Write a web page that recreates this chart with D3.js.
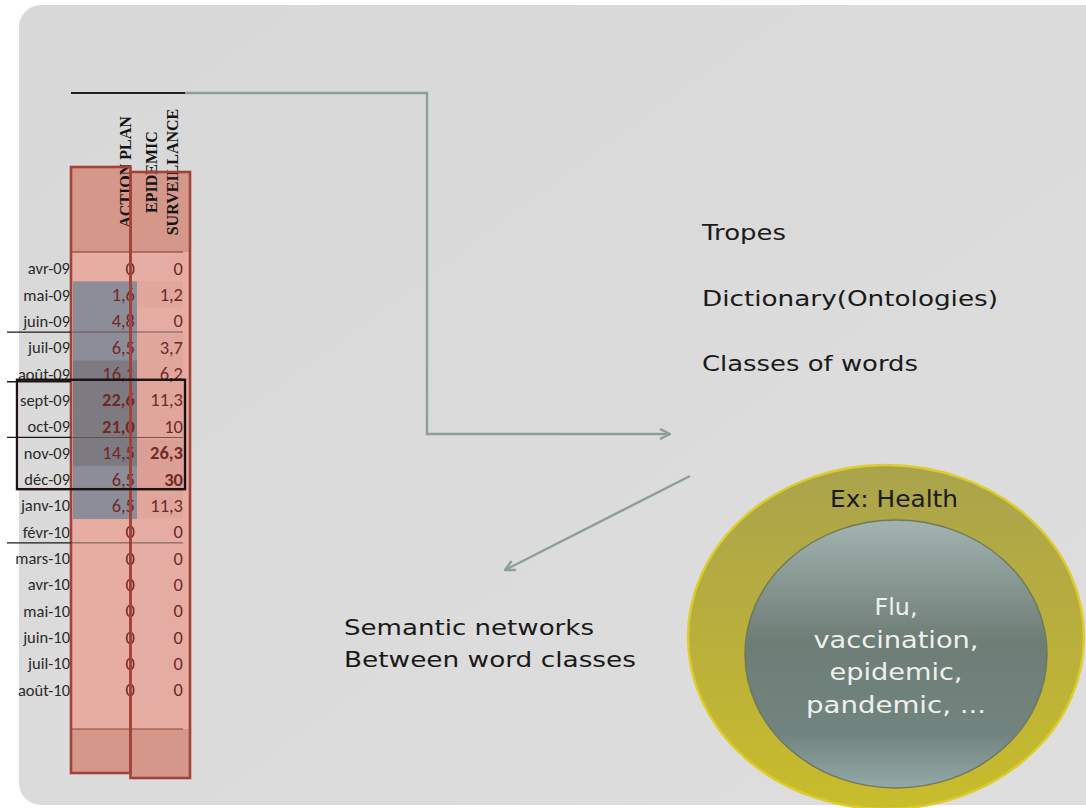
<!DOCTYPE html>
<html><head><meta charset="utf-8">
<script src="https://cdn.jsdelivr.net/npm/d3@7"></script>
<style>html,body{margin:0;padding:0;background:#fff;}svg{display:block;}</style>
</head><body><svg id="c" width="1086" height="808"></svg>
<script>
const months = ["avr-09","mai-09","juin-09","juil-09","août-09","sept-09","oct-09","nov-09","déc-09","janv-10","févr-10","mars-10","avr-10","mai-10","juin-10","juil-10","août-10"];
const actionPlan = [0,1.6,4.8,6.5,16.1,22.6,21.0,14.5,6.5,6.5,0,0,0,0,0,0,0];
const epidemicSurveillance = [0,1.2,0,3.7,6.2,11.3,10,26.3,30,11.3,0,0,0,0,0,0,0];
const seriesKeys = ["ap","es"];
const seriesHeaders = [["ACTION PLAN"],["EPIDEMIC","SURVEILLANCE"]];
const methodItems = ["Tropes","Dictionary(Ontologies)","Classes of words"];
const networkLines = ["Semantic networks","Between word classes"];
const classTitle = "Ex: Health";
const classWords = ["Flu,","vaccination,","epidemic,","pandemic, ..."];

const svg = d3.select("#c");
const defs = svg.append("defs");
const ring = defs.append("linearGradient").attr("id","ring").attr("x1",0).attr("y1",0).attr("x2",0).attr("y2",1);
ring.append("stop").attr("offset","0%").attr("stop-color","#aaa34c");
ring.append("stop").attr("offset","50%").attr("stop-color","#b9af3c");
ring.append("stop").attr("offset","100%").attr("stop-color","#c8bd2a");
const core = defs.append("linearGradient").attr("id","core").attr("x1",0).attr("y1",0).attr("x2",0).attr("y2",1);
core.append("stop").attr("offset","0%").attr("stop-color","#a3b3b0");
core.append("stop").attr("offset","45%").attr("stop-color","#6e7d76");
core.append("stop").attr("offset","80%").attr("stop-color","#72847f");
core.append("stop").attr("offset","100%").attr("stop-color","#93a8a8");
const bg = defs.append("linearGradient").attr("id","bg").attr("x1",0).attr("y1",0).attr("x2",1).attr("y2",1);
bg.append("stop").attr("offset","0%").attr("stop-color","#d8d8d8");
bg.append("stop").attr("offset","100%").attr("stop-color","#dedede");
defs.append("marker").attr("id","arr").attr("viewBox","0 0 12 12").attr("refX",11).attr("refY",6)
  .attr("markerWidth",12).attr("markerHeight",12).attr("markerUnits","userSpaceOnUse").attr("orient","auto")
  .append("path").attr("d","M1,1 L11,6 L1,11").attr("fill","none").attr("stroke","#8d9d99").attr("stroke-width",2.4);

// slide background
svg.append("rect").attr("x",19).attr("y",5).attr("width",1100).attr("height",800).attr("rx",22).attr("fill","url(#bg)");

// scales
const y = d3.scaleBand().domain(months).range([255,703]);
const colRect = d3.scaleBand().domain(seriesKeys).range([71,190]);
const cellEdge = d3.scaleOrdinal().domain(seriesKeys).range([[73,137],[137,185]]);
const values = {ap: actionPlan, es: epidemicSurveillance};
const grayScale = d3.scaleThreshold().domain([0.01,10]).range([null,"#8d8d99","#7e7a82"]);
const esShade = d3.scaleThreshold().domain([0.01,20]).range(["#e4aca2","#e0a69c","#dc9f95"]);

// column rects (fill)
const rectTops = {ap:167, es:172}, rectBots = {ap:773, es:778};
seriesKeys.forEach(k=>{
  svg.append("rect").attr("x",colRect(k)).attr("y",rectTops[k]).attr("width",colRect.bandwidth()).attr("height",rectBots[k]-rectTops[k])
    .attr("fill","#d6978b");
  svg.append("rect").attr("x",colRect(k)).attr("y",252).attr("width",colRect.bandwidth()).attr("height",729-252)
    .attr("fill","#e7ada3");
});
// es cell shading
svg.append("g").selectAll("rect").data(months).join("rect")
  .attr("x",cellEdge("es")[0]).attr("width",cellEdge("es")[1]-cellEdge("es")[0]-2)
  .attr("y",d=>y(d)).attr("height",y.bandwidth())
  .attr("fill",(d,i)=>esShade(epidemicSurveillance[i]));
// ap gray cells
svg.append("g").selectAll("rect").data(months.filter((m,i)=>actionPlan[i]>0)).join("rect")
  .attr("x",cellEdge("ap")[0]).attr("width",cellEdge("ap")[1]-cellEdge("ap")[0])
  .attr("y",d=>y(d)).attr("height",y.bandwidth()+0.5)
  .attr("fill",d=>grayScale(actionPlan[months.indexOf(d)]));

// header lines
svg.append("line").attr("x1",72).attr("x2",183).attr("y1",252).attr("y2",252).attr("stroke","#7a3a32").attr("stroke-width",1.2);
svg.append("line").attr("x1",72).attr("x2",183).attr("y1",729).attr("y2",729).attr("stroke","#8a4a40").attr("stroke-width",1.2);

// headers (rotated)
const headerCx = {ap:125, es:162};
seriesKeys.forEach((k,si)=>{
  const lines = seriesHeaders[si];
  const t = svg.append("text").attr("transform",`translate(${headerCx[k]},172) rotate(-90)`)
    .attr("text-anchor","middle").attr("font-family","'Liberation Serif',serif").attr("font-weight","bold")
    .attr("font-size",16).attr("fill","#141414");
  lines.forEach((l,li)=>{
    t.append("tspan").attr("x",0).attr("y", (li - (lines.length-1)/2)*21 + 5.5).text(l);
  });
});

// row labels
svg.append("g").selectAll("text").data(months).join("text")
  .attr("x",70).attr("y",d=>y(d)+y.bandwidth()/2+6).attr("text-anchor","end")
  .attr("font-family","Carlito,Lato,sans-serif").attr("font-size",16.5).attr("fill","#2a2a2a").text(d=>d);

// values
const fmt = (k,v)=> v===0 ? "0" : (k==="ap" ? v.toFixed(1) : d3.format("~f")(v)).replace(".",",");
seriesKeys.forEach(k=>{
  svg.append("g").selectAll("text").data(values[k]).join("text")
    .attr("x",cellEdge(k)[1]-2).attr("y",(v,i)=>y(months[i])+y.bandwidth()/2+6.5)
    .attr("text-anchor","end").attr("font-family","Carlito,Lato,sans-serif").attr("font-size",18.5)
    .attr("font-weight",v=>v>20?"bold":"normal").attr("fill","#702a26").text(v=>fmt(k,v));
});

// column rect strokes
seriesKeys.forEach(k=>{
  svg.append("rect").attr("x",colRect(k)).attr("y",rectTops[k]).attr("width",colRect.bandwidth()).attr("height",rectBots[k]-rectTops[k])
    .attr("fill","none").attr("stroke","#a2433a").attr("stroke-width",2.6);
});

// separator lines
const sepAfter = ["juin-09","oct-09","févr-10"];
sepAfter.forEach(m=>{
  const yy = y(m)+y.bandwidth()-2;
  svg.append("line").attr("x1",7).attr("x2",71).attr("y1",yy).attr("y2",yy).attr("stroke","#1a1a1a").attr("stroke-width",1.3);
  svg.append("line").attr("x1",71).attr("x2",183).attr("y1",yy).attr("y2",yy).attr("stroke","#6a4a48").attr("stroke-width",0.9);
});
// août line
svg.append("line").attr("x1",7).attr("x2",71).attr("y1",y("août-09")+y.bandwidth()-5).attr("y2",y("août-09")+y.bandwidth()-5).attr("stroke","#1a1a1a").attr("stroke-width",1.5);
// highlight box
svg.append("rect").attr("x",17).attr("y",y("sept-09")-7).attr("width",168).attr("height",y("déc-09")+y.bandwidth()-3-(y("sept-09")-7))
  .attr("fill","none").attr("stroke","#1c1212").attr("stroke-width",2.4);

// connectors
svg.append("line").attr("x1",71).attr("x2",186).attr("y1",93).attr("y2",93).attr("stroke","#222").attr("stroke-width",2);
svg.append("path").attr("d","M185,93 H427 V434 H670").attr("fill","none").attr("stroke","#8d9d99").attr("stroke-width",2.4).attr("marker-end","url(#arr)");
svg.append("path").attr("d","M690,476 L505,570").attr("fill","none").attr("stroke","#8d9d99").attr("stroke-width",2.4).attr("marker-end","url(#arr)");

// method items
const gothic = "'DejaVu Sans',sans-serif";
const mLen = [84,296,216];
svg.append("g").selectAll("text").data(methodItems).join("text")
  .attr("x",702).attr("y",(d,i)=>240+i*65.5).attr("font-family",gothic).attr("font-size",22).attr("fill","#1a1a1a")
  .attr("textLength",(d,i)=>mLen[i]).attr("lengthAdjust","spacingAndGlyphs").text(d=>d);
const nLen = [250,292];
svg.append("g").selectAll("text").data(networkLines).join("text")
  .attr("x",344).attr("y",(d,i)=>635+i*32).attr("font-family",gothic).attr("font-size",22).attr("fill","#1a1a1a")
  .attr("textLength",(d,i)=>nLen[i]).attr("lengthAdjust","spacingAndGlyphs").text(d=>d);

// circles
svg.append("ellipse").attr("cx",886).attr("cy",637).attr("rx",198).attr("ry",172).attr("fill","url(#ring)").attr("stroke","#dccd2c").attr("stroke-width",2.5);
svg.append("ellipse").attr("cx",896).attr("cy",654).attr("rx",151).attr("ry",134).attr("fill","url(#core)").attr("stroke","#6f7a5a").attr("stroke-width",1.5);
svg.append("text").attr("x",894).attr("y",507).attr("text-anchor","middle").attr("font-family",gothic).attr("font-size",23)
  .attr("fill","#1a1a1a").attr("textLength",128).attr("lengthAdjust","spacingAndGlyphs").text(classTitle);
const wLen = [43,165,133,180];
svg.append("g").selectAll("text").data(classWords).join("text")
  .attr("x",896).attr("y",(d,i)=>615+i*32.5).attr("text-anchor","middle").attr("font-family",gothic).attr("font-size",23)
  .attr("fill","#eef0ee").attr("textLength",(d,i)=>wLen[i]).attr("lengthAdjust","spacingAndGlyphs").text(d=>d);
</script></body></html>
